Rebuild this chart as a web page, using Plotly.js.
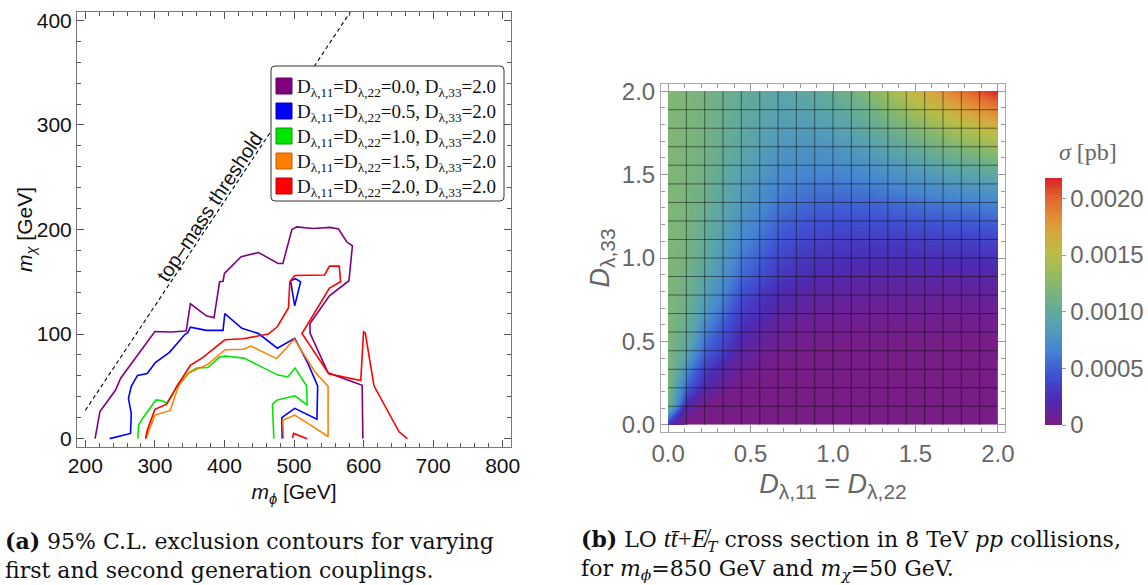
<!DOCTYPE html>
<html><head><meta charset="utf-8">
<script src="https://cdn.plot.ly/plotly-3.0.1.min.js"></script>
<style>html,body{margin:0;padding:0;background:#fff}#chart{width:1148px;height:585px}</style>
</head><body><div id="chart"></div>
<script>
// ---------- Panel (a): 95% C.L. exclusion contours (m_phi, m_chi in GeV) ----------
const purpleX = [214,221,243,251,300,323,345,351,374,385,393,398,400,424,449,477,484,497,504,527,552,564,576,584,579,551,523,523,549,574,598,599];
const purpleY = [0,26,46,58,102.5,102,103,129,117.5,115.5,150,150.5,158,174,178,167.5,167.5,200,202.5,201,202,200.5,188,184.5,151,136.5,110,101,63,56.5,51,0];
const blueX = [235,265,266,262,266,275,289,301,321,343,347,351,374,398,400.5,425,449,476,501,520,534,533,501,482.5,483];
const blueY = [0,5,24,38.5,50,60.5,62.3,73,82.5,99.5,101,106.5,103.5,103.5,119.5,105.5,100.5,86.5,96,72,50.5,18.5,29,20,0];
const blueIslandX = [495,502,509.5,501,495];
const blueIslandY = [151,153,150,127,151];
const greenX = [275.5,276.5,282,301.5,309,317,325,333,351,360,376,393,401,428,476,491,501.5,518,519,501.5,476,469,471];
const greenY = [0,13,19,37,36.5,34,41.5,52,64,67.5,68,78,79,77,61,59,67.5,50.5,32,41,37,33,0];
const orangeX = [287,292,300,322,334,349,376,401,427,438,475,500.5,530,549,549,525,501,484,485];
const orangeY = [0,9,22.5,27,50.5,63,71,85,85.5,88.5,76.5,95,64,50,2,12.5,22.5,17.5,0];
const redX = [286.5,289,300,317,332,351,369.5,400.5,427,450,463,476,492,494,501,544,551,565,567,551,511.5,550,596,600,602.5,615,651,663];
const redY = [0,8,28,33,50.5,70,78,94.5,95.5,98,100,107,125,150,156,156.5,165,165,150,144,100.5,62,55.5,102,101,50.5,6.5,0];
const redPieceX = [498,499.5,519];
const redPieceY = [0.5,5,0];
const thresholdX = [200,600];
const thresholdY = [27,427];
const d1122Values = ['0.0','0.5','1.0','1.5','2.0'];
const d33Value = '2.0';

// ---------- Panel (b): LO cross section sigma [1e-4 pb] on (D11=D22, D33) grid ----------
const dGrid = [0,0.111,0.222,0.444,0.667,0.889,1.111,1.333,1.556,1.778,2.0];
const sig_d33_0000 = [3,0,0,0,0,0,0,0,0,0,0];
const sig_d33_0111 = [11.5,2.0,0.3,0.05,0,0,0,0,0,0,0];
const sig_d33_0222 = [12,5.3,1.8,0.2,0.05,0.03,0.03,0.03,0.03,0.03,0.03];
const sig_d33_0444 = [12,9.4,5.2,1.5,0.45,0.23,0.16,0.14,0.13,0.13,0.12];
const sig_d33_0667 = [12,10.8,7.9,3.3,1.5,0.9,0.68,0.6,0.58,0.57,0.56];
const sig_d33_0889 = [12,11.2,9.4,5.4,3.0,2.1,1.7,1.6,1.6,1.6,1.65];
const sig_d33_1111 = [12,11.5,10.2,7.0,4.6,3.6,3.3,3.25,3.35,3.5,3.65];
const sig_d33_1333 = [12,11.7,10.7,8.2,6.1,5.3,5.2,5.45,5.9,6.3,6.7];
const sig_d33_1556 = [12,11.8,11.1,9.1,7.5,7.0,7.3,8.0,9.0,10.0,10.9];
const sig_d33_1778 = [12,11.8,11.3,9.8,8.6,8.5,9.3,10.8,12.7,14.5,16.3];
const sig_d33_2000 = [12,11.9,11.4,10.2,9.4,9.9,11.3,13.7,16.7,19.5,21.8];
const meshLines = [0.111,0.222,0.333,0.444,0.556,0.667,0.778,0.889,1.0,1.111,1.222,1.333,1.444,1.556,1.667,1.778,1.889];
const cbTickVals = [0,0.0005,0.0010,0.0015,0.0020];
const cbTickText = ['0','0.0005','0.0010','0.0015','0.0020'];

// ---------- build ----------
const W = 1148, H = 585;
const px = v => v / W, py = v => (H - v) / H;
const lineColors = ['#800080','#0000ff','#00e600','#ff8000','#ff0000'];
const swatchEdge = ['#5a005a','#0000b0','#00a000','#c06000','#c00000'];
const sans = 'Liberation Sans, Arial, sans-serif';
const serif = 'Liberation Serif, Times New Roman, serif';
const capSerif = 'DejaVu Serif, serif';

const withGap = (a, b) => a.concat([null], b);
const curves = [
  [purpleX, purpleY],
  [withGap(blueX, blueIslandX), withGap(blueY, blueIslandY)],
  [greenX, greenY],
  [orangeX, orangeY],
  [withGap(redX, redPieceX), withGap(redY, redPieceY)]
];

const traces = [];
traces.push({type:'scatter', mode:'lines', x:thresholdX, y:thresholdY, xaxis:'x', yaxis:'y',
  line:{color:'#000', width:1.1, dash:'4px,3px'}, showlegend:false, hoverinfo:'skip'});
curves.forEach((c, i) => traces.push({type:'scatter', mode:'lines', x:c[0], y:c[1], xaxis:'x', yaxis:'y',
  line:{color:lineColors[i], width:1.6}, showlegend:false, hoverinfo:'skip', connectgaps:false}));

const zRows = [sig_d33_0000,sig_d33_0111,sig_d33_0222,sig_d33_0444,sig_d33_0667,sig_d33_0889,
               sig_d33_1111,sig_d33_1333,sig_d33_1556,sig_d33_1778,sig_d33_2000];
const zPb = zRows.map(r => r.map(v => v * 1e-4));
const rainbow = [
  [0.00,'#781c86'],[0.10,'#4c2bb4'],[0.20,'#3f52d3'],[0.30,'#4585d2'],[0.40,'#56a0b4'],
  [0.46,'#62aa9a'],[0.55,'#7eb676'],[0.62,'#9cbb5a'],[0.69,'#b9bd47'],[0.78,'#d5a83e'],
  [0.85,'#e28a35'],[0.92,'#e2672f'],[1.00,'#d92525']];
const zmax = 0.00218;
traces.push({type:'contour', x:dGrid, y:dGrid, z:zPb, xaxis:'x2', yaxis:'y2',
  colorscale:rainbow, zauto:false, zmin:0, zmax:zmax, autocontour:false,
  contours:{start:0.00001, end:zmax, size:0.00002, coloring:'fill', showlines:false},
  line:{width:0}, hoverinfo:'skip', showlegend:false,
  colorbar:{x:px(1045), xanchor:'left', xpad:0, ypad:0, y:py(425), yanchor:'bottom',
    len:247, lenmode:'pixels', thickness:17, thicknessmode:'pixels', outlinewidth:0,
    tickmode:'array', tickvals:cbTickVals, ticktext:cbTickText, ticks:'outside', ticklen:4,
    tickcolor:'#999', tickfont:{family:sans, size:24, color:'#666'}}});

const mx = [], my = [];
meshLines.forEach(m => { mx.push(m, m, null); my.push(dGrid[0], dGrid[dGrid.length-1], null); });
meshLines.forEach(m => { mx.push(dGrid[0], dGrid[dGrid.length-1], null); my.push(m, m, null); });
traces.push({type:'scatter', mode:'lines', x:mx, y:my, xaxis:'x2', yaxis:'y2',
  line:{color:'rgba(10,10,10,0.5)', width:1}, hoverinfo:'skip', showlegend:false});

const axL = (extra) => Object.assign({ticks:'inside', ticklen:7, tickwidth:1, tickcolor:'#555',
  showline:true, linecolor:'#777', linewidth:1, mirror:'ticks', showgrid:false, zeroline:false,
  tickfont:{family:sans, size:21, color:'#111'}}, extra);
const axR = (extra) => Object.assign({ticks:'inside', ticklen:7, tickwidth:1, tickcolor:'#999',
  showline:true, linecolor:'#aaa', linewidth:1, mirror:'ticks', showgrid:false, zeroline:false,
  range:[-0.043,2.043], tick0:0, dtick:0.5, tickformat:'.1f',
  minor:{dtick:0.1, ticks:'inside', ticklen:4, tickcolor:'#999'},
  tickfont:{family:sans, size:24, color:'#666'}}, extra);
const subBig = s => '<sub><span style="font-size:21px">' + s + '</span></sub>';
const lib = s => '<span style="font-family:Liberation Serif;font-size:25px">' + s + '</span>';

// hand-placed legend box (rounded), swatches and labels
const lx0 = px(271), lx1 = px(504), ly0 = py(66), ly1 = py(201), rx = 4 / W, ry = 4 / H;
const shapes = [{type:'path', xref:'paper', yref:'paper', layer:'above',
  path:`M ${lx0+rx},${ly0} L ${lx1-rx},${ly0} Q ${lx1},${ly0} ${lx1},${ly0-ry} L ${lx1},${ly1+ry} Q ${lx1},${ly1} ${lx1-rx},${ly1} L ${lx0+rx},${ly1} Q ${lx0},${ly1} ${lx0},${ly1+ry} L ${lx0},${ly0-ry} Q ${lx0},${ly0} ${lx0+rx},${ly0} Z`,
  line:{color:'#333', width:1}, fillcolor:'#fff'}];
const annotations = [];
d1122Values.forEach((v, i) => {
  shapes.push({type:'rect', xref:'paper', yref:'paper', layer:'above',
    x0:px(276), x1:px(292), y0:py(78 + 25*i), y1:py(94 + 25*i),
    fillcolor:lineColors[i], line:{color:swatchEdge[i], width:1}});
  annotations.push({xref:'paper', yref:'paper', x:px(295), y:py(88 + 25*i), xanchor:'left', yanchor:'middle',
    showarrow:false, text:'D<sub>λ,11</sub>=D<sub>λ,22</sub>=' + v + ', D<sub>λ,33</sub>=' + d33Value,
    font:{family:serif, size:19, color:'#111'}});
});

annotations.push(
  {xref:'x', yref:'y', x:378, y:222, text:'top–mass threshold', showarrow:false, textangle:-56.4,
    font:{family:sans, size:20, color:'#111'}},
  {xref:'paper', yref:'paper', x:px(26), y:py(230), xanchor:'center', yanchor:'middle',
    text:'<i>m</i><sub><i>χ</i></sub> [GeV]', showarrow:false,
    textangle:-90, font:{family:sans, size:21, color:'#111'}},
  {xref:'paper', yref:'paper', x:px(1088), y:py(152), xanchor:'center', yanchor:'middle', text:'<i>σ</i> [pb]', showarrow:false,
    font:{family:serif, size:24, color:'#666'}},
  {xref:'paper', yref:'paper', x:px(3), y:py(555), xanchor:'left', yanchor:'middle', align:'left', showarrow:false,
    text:'<b>(a)</b> 95% C.L. exclusion contours for varying<br>first and second generation couplings.',
    font:{family:capSerif, size:22, color:'#111'}},
  {xref:'paper', yref:'paper', x:px(579), y:py(554), xanchor:'left', yanchor:'middle', align:'left', showarrow:false,
    text:'<b>(b)</b> LO ' + lib('<i>tt\u0304</i>+<i>E\u0338</i>') + '<sub><i>T</i></sub> cross section in 8 TeV <i>pp</i> collisions,<br>for <i>m</i><sub><i>ϕ</i></sub>=850 GeV and <i>m</i><sub><i>χ</i></sub>=50 GeV.',
    font:{family:capSerif, size:22, color:'#111'}}
);

const layout = {
  width:W, height:H, margin:{l:0,r:0,t:0,b:0}, paper_bgcolor:'#fff', plot_bgcolor:'#fff',
  showlegend:false,
  xaxis: axL({domain:[px(77),px(511)], range:[188,812], anchor:'y', tick0:0, dtick:100,
    minor:{dtick:20, ticks:'inside', ticklen:4, tickcolor:'#555'},
    title:{text:'<i>m</i><sub><i>ϕ</i></sub> [GeV]', font:{family:sans, size:21, color:'#111'}, standoff:8}}),
  yaxis: axL({domain:[py(447),py(12)], range:[-8,408], anchor:'x', tick0:0, dtick:100,
    minor:{dtick:20, ticks:'inside', ticklen:4, tickcolor:'#555'}}),
  xaxis2: axR({domain:[px(661),px(1005)], anchor:'y2',
    title:{text:'<i>D</i>' + subBig('λ,11') + ' = <i>D</i>' + subBig('λ,22'), font:{family:sans, size:27, color:'#666'}, standoff:8}}),
  yaxis2: axR({domain:[py(432),py(84)], anchor:'x2',
    title:{text:'<i>D</i>' + subBig('λ,33'), font:{family:sans, size:27, color:'#666'}, standoff:4}}),
  shapes: shapes,
  annotations: annotations
};

Plotly.newPlot('chart', traces, layout, {staticPlot:true, displayModeBar:false});
</script></body></html>
